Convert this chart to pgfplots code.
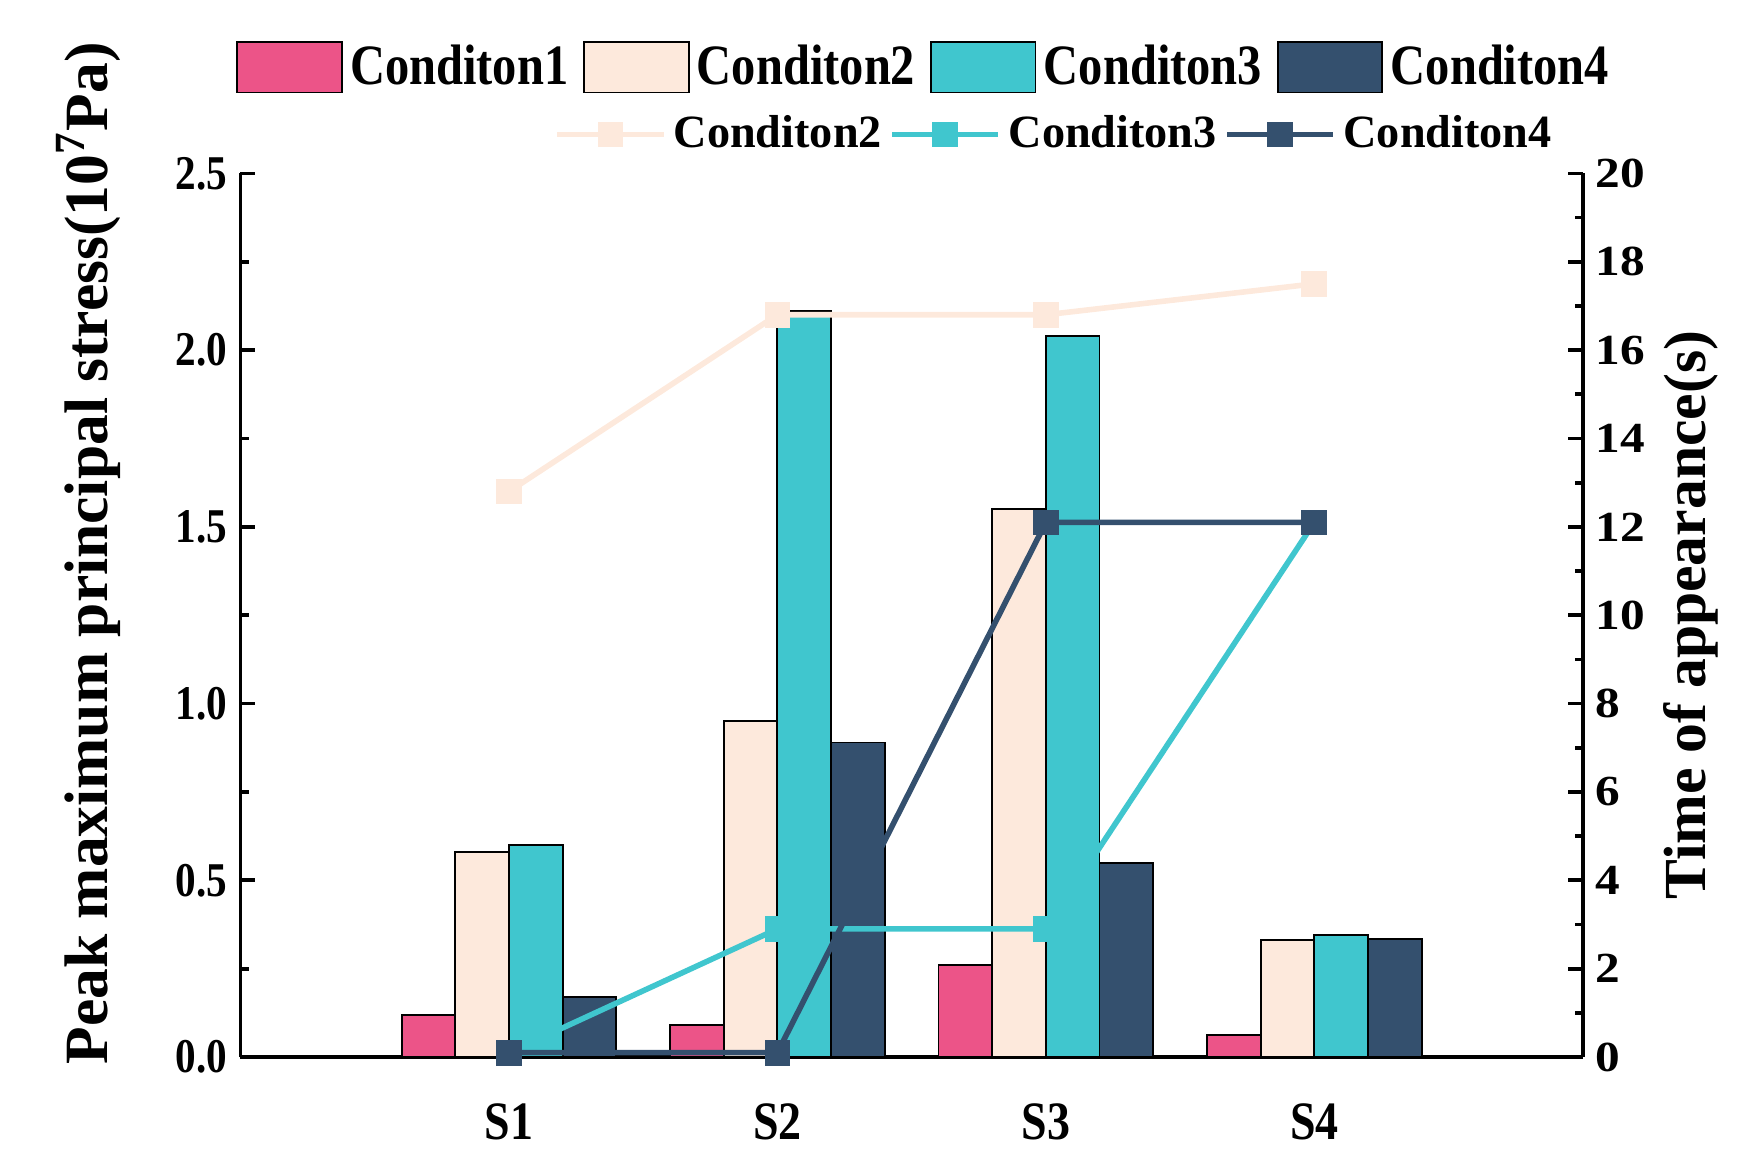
\documentclass[border=0pt]{standalone}
\usepackage{fontspec}
\setmainfont{Liberation Serif}
\newfontfamily\condfont[FakeStretch=0.85]{Liberation Serif}
\newfontfamily\widefont[FakeStretch=1.15]{Liberation Serif}
\usepackage{pgfplots}
\pgfplotsset{compat=1.18}

\definecolor{cA}{RGB}{236,84,136}
\definecolor{cB}{RGB}{253,233,220}
\definecolor{cC}{RGB}{64,198,206}
\definecolor{cD}{RGB}{52,80,110}

\pgfplotsset{
  mybar/.style={ybar, bar width=0.2, draw=black, line width=0.5pt,
    legend image code/.code={\draw[##1] (0pt,-6.75pt) rectangle (28pt,6.75pt);}},
  myline/.style={line width=1.5pt, mark=square*, mark size=2.7pt,
    legend image code/.code={\draw[mark repeat=2,mark phase=2,##1] plot coordinates {(0pt,0pt) (14.25pt,0pt) (28.5pt,0pt)};}},
}

\begin{document}
\begin{tikzpicture}
\useasboundingbox (-64.5pt,-29.4pt) rectangle (403.5pt,283.5pt);

% bars, left axis
\begin{axis}[
  at={(0,0)}, anchor=south west,
  width=360pt, height=237pt, scale only axis,
  xmin=0, xmax=5, ymin=0, ymax=2.5,
  axis x line*=bottom, axis y line*=left,
  axis line style={line width=1pt},
  xtick={1,2,3,4}, xticklabels={S1,S2,S3,S4},
  major x tick style={draw=none},
  xticklabel style={font=\condfont\bfseries\fontsize{14.5}{16}\selectfont, yshift=-9pt},
  ytick={0,0.5,1,1.5,2,2.5}, minor y tick num=1,
  yticklabel style={font=\condfont\bfseries\fontsize{13}{15}\selectfont,
    /pgf/number format/.cd, fixed, fixed zerofill, precision=1, assume math mode=true},
  tick style={line width=1pt, black},
  major tick length=4pt, minor tick length=2.2pt,
  ylabel={Peak maximum principal stress(10\textsuperscript{7}Pa)},
  ylabel style={at={(axis description cs:-0.1135,0.57)}, anchor=center,
    font=\bfseries\fontsize{16.5}{18}\selectfont},
  legend style={at={(rel axis cs:-0.012,1.12)}, anchor=west, draw=none, fill=none,
    legend columns=4, font=\condfont\bfseries\fontsize{15.3}{17}\selectfont,
    /tikz/every even column/.append style={column sep=2pt}},
]
\addplot[mybar, bar shift=-0.3, fill=cA] coordinates {(1,0.12) (2,0.09) (3,0.26) (4,0.063)};
\addplot[mybar, bar shift=-0.1, fill=cB] coordinates {(1,0.58) (2,0.95) (3,1.55) (4,0.33)};
\addplot[mybar, bar shift=0.1, fill=cC] coordinates {(1,0.60) (2,2.11) (3,2.04) (4,0.345)};
\addplot[mybar, bar shift=0.3, fill=cD] coordinates {(1,0.17) (2,0.89) (3,0.55) (4,0.335)};
\legend{Conditon1,Conditon2,Conditon3,Conditon4}
\end{axis}

% lines, right axis
\begin{axis}[
  at={(0,0)}, anchor=south west,
  width=360pt, height=237pt, scale only axis,
  xmin=0, xmax=5, ymin=0, ymax=20,
  axis x line=none, axis y line*=right,
  axis line style={line width=1pt},
  ytick={0,2,...,20}, minor y tick num=1,
  yticklabel style={font=\widefont\bfseries\fontsize{11.5}{13}\selectfont,
    /pgf/number format/assume math mode=true},
  tick style={line width=1pt, black},
  major tick length=4pt, minor tick length=2.2pt,
  ylabel={Time of appearance(s)},
  ylabel style={at={(axis description cs:1.0806,0.5)}, anchor=center,
    font=\bfseries\fontsize{16}{18}\selectfont},
  legend style={at={(rel axis cs:0.225,1.044)}, anchor=west, draw=none, fill=none,
    legend columns=3, font=\bfseries\fontsize{12.4}{14}\selectfont},
]
\addplot[myline, color=cB] coordinates {(1,12.8) (2,16.8) (3,16.8) (4,17.5)};
\addplot[myline, color=cC] coordinates {(1,0.1) (2,2.9) (3,2.9) (4,12.1)};
\addplot[myline, color=cD] coordinates {(1,0.1) (2,0.1) (3,12.1) (4,12.1)};
\legend{Conditon2,Conditon3,Conditon4}
\end{axis}
\end{tikzpicture}
\end{document}
